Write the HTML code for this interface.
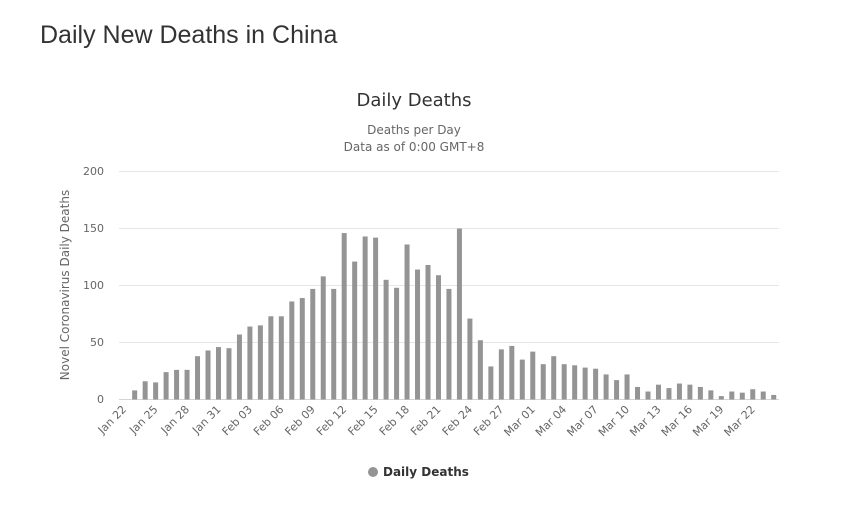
<!DOCTYPE html>
<html><head><meta charset="utf-8"><style>
body{margin:0;background:#fff;width:850px;height:518px;overflow:hidden}
svg text{font-family:"DejaVu Sans",sans-serif}
</style></head><body>
<svg width="850" height="518" xmlns="http://www.w3.org/2000/svg">
<text x="40" y="43" style="font-family:'Liberation Sans',sans-serif" font-size="25" fill="#333">Daily New Deaths in China</text>
<text x="414" y="106" text-anchor="middle" font-size="18" fill="#333">Daily Deaths</text>
<text x="414" y="134" text-anchor="middle" font-size="12" fill="#666">Deaths per Day</text>
<text x="414" y="151" text-anchor="middle" font-size="12" fill="#666">Data as of 0:00 GMT+8</text>
<g stroke="#e6e6e6" stroke-width="1">
<line x1="119" x2="779" y1="171.5" y2="171.5"/><line x1="119" x2="779" y1="228.5" y2="228.5"/>
<line x1="119" x2="779" y1="285.5" y2="285.5"/><line x1="119" x2="779" y1="342.5" y2="342.5"/>
</g>
<line x1="119" x2="779" y1="399.5" y2="399.5" stroke="#ccd6eb"/>
<g font-size="11" fill="#666" text-anchor="end">
<text x="104" y="175">200</text><text x="104" y="232">150</text><text x="104" y="289">100</text><text x="104" y="346">50</text><text x="104" y="403">0</text>
</g>
<text transform="translate(69,285) rotate(-90)" text-anchor="middle" font-size="12" fill="#666">Novel Coronavirus Daily Deaths</text>
<g id="bars" fill="#949494"></g>
<g font-size="11" fill="#666" text-anchor="end">
<text transform="translate(127,410) rotate(-45)">Jan 22</text>
<text transform="translate(158.5,410) rotate(-45)">Jan 25</text>
<text transform="translate(190,410) rotate(-45)">Jan 28</text>
<text transform="translate(221.4,410) rotate(-45)">Jan 31</text>
<text transform="translate(252.8,410) rotate(-45)">Feb 03</text>
<text transform="translate(284.3,410) rotate(-45)">Feb 06</text>
<text transform="translate(315.7,410) rotate(-45)">Feb 09</text>
<text transform="translate(347.1,410) rotate(-45)">Feb 12</text>
<text transform="translate(378.6,410) rotate(-45)">Feb 15</text>
<text transform="translate(410,410) rotate(-45)">Feb 18</text>
<text transform="translate(441.4,410) rotate(-45)">Feb 21</text>
<text transform="translate(472.9,410) rotate(-45)">Feb 24</text>
<text transform="translate(504.3,410) rotate(-45)">Feb 27</text>
<text transform="translate(535.7,410) rotate(-45)">Mar 01</text>
<text transform="translate(567.1,410) rotate(-45)">Mar 04</text>
<text transform="translate(598.6,410) rotate(-45)">Mar 07</text>
<text transform="translate(630,410) rotate(-45)">Mar 10</text>
<text transform="translate(661.4,410) rotate(-45)">Mar 13</text>
<text transform="translate(692.9,410) rotate(-45)">Mar 16</text>
<text transform="translate(724.3,410) rotate(-45)">Mar 19</text>
<text transform="translate(755.7,410) rotate(-45)">Mar 22</text>
</g>
<circle cx="373" cy="472" r="5" fill="#949494"/>
<text x="383" y="476" font-size="12" font-weight="bold" fill="#333">Daily Deaths</text>
</svg>
<script>
var d=[0,8,16,15,24,26,26,38,43,46,45,57,64,65,73,73,86,89,97,108,97,146,121,143,142,105,98,136,114,118,109,97,150,71,52,29,44,47,35,42,31,38,31,30,28,27,22,17,22,11,7,13,10,14,13,11,8,3,7,6,9,7,4];
var g=document.getElementById('bars'),s='';
for(var i=0;i<d.length;i++){var x=124.2+10.476*i,h=d[i]*1.14;if(h>0)s+='<rect x="'+(x-2.5)+'" y="'+(399.5-h)+'" width="5" height="'+h+'"/>';}
g.innerHTML=s;
</script>
</body></html>
